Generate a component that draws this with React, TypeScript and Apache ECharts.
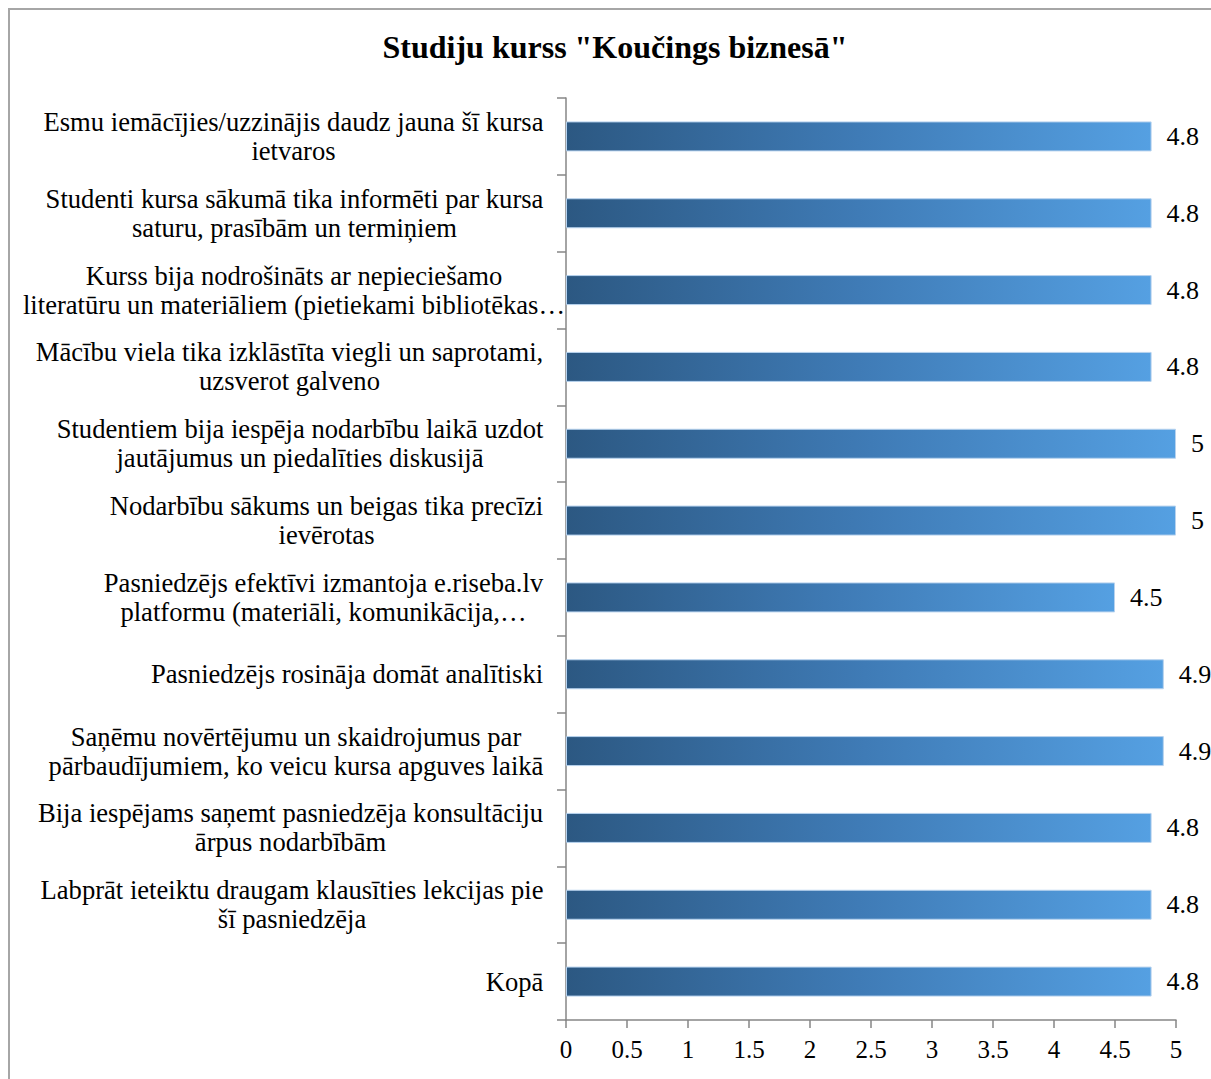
import React, { useEffect, useRef } from "react";
import * as echarts from "echarts";

const titleText = 'Studiju kurss "Koučings biznesā"';

const categories: string[] = [
  "Esmu iemācījies/uzzinājis daudz jauna šī kursa\nietvaros",
  "Studenti kursa sākumā tika informēti par kursa\nsaturu, prasībām un termiņiem",
  "Kurss bija nodrošināts ar nepieciešamo\nliteratūru un materiāliem (pietiekami bibliotēkas…",
  "Mācību viela tika izklāstīta viegli un saprotami,\nuzsverot galveno",
  "Studentiem bija iespēja nodarbību laikā uzdot\njautājumus un piedalīties diskusijā",
  "Nodarbību sākums un beigas tika precīzi\nievērotas",
  "Pasniedzējs efektīvi izmantoja e.riseba.lv\nplatformu (materiāli, komunikācija,…",
  "Pasniedzējs rosināja domāt analītiski",
  "Saņēmu novērtējumu un skaidrojumus par\npārbaudījumiem, ko veicu kursa apguves laikā",
  "Bija iespējams saņemt pasniedzēja konsultāciju\nārpus nodarbībām",
  "Labprāt ieteiktu draugam klausīties lekcijas pie\nšī pasniedzēja",
  "Kopā",
];

const values: number[] = [4.8, 4.8, 4.8, 4.8, 5, 5, 4.5, 4.9, 4.9, 4.8, 4.8, 4.8];

const FONT = "'Liberation Serif', 'Times New Roman', serif";
const LABEL_SIZE = 26.6;
const LABEL_OVERFLOW_LIMIT = 530;
const LABEL_BOX_MAX = 500;

function measure(text: string, size: number): number {
  const c = document.createElement("canvas");
  const ctx = c.getContext("2d");
  if (!ctx) return text.length * size * 0.45;
  ctx.font = `${size}px ${FONT}`;
  return ctx.measureText(text).width;
}

export default function App() {
  const ref = useRef<HTMLDivElement>(null);

  useEffect(() => {
    document.body.style.margin = "0";
    if (!ref.current) return;
    const chart = echarts.init(ref.current, undefined, { renderer: "svg" });

    const rich: Record<string, any> = {};
    categories.forEach((cat, i) => {
      const w = Math.ceil(Math.max(...cat.split("\n").map((l) => measure(l, LABEL_SIZE)))) + 1;
      rich["l" + i] = {
        width: w > LABEL_OVERFLOW_LIMIT ? LABEL_BOX_MAX : w,
        align: "center",
        fontFamily: FONT,
        fontSize: LABEL_SIZE,
        lineHeight: 29,
        color: "#000",
      };
    });

    chart.setOption({
      animation: false,
      backgroundColor: "#fff",
      textStyle: { fontFamily: FONT },
      title: {
        text: titleText,
        left: 610,
        textAlign: "center",
        top: 26,
        textStyle: {
          fontFamily: FONT,
          fontSize: 32,
          fontWeight: "bold",
          color: "#000",
        },
      },
      graphic: [
        {
          type: "rect",
          shape: { x: 9, y: 9, width: 1260, height: 1120 },
          style: { fill: "none", stroke: "#a6a6a6", lineWidth: 2 },
          silent: true,
          z: 100,
        },
      ],
      grid: {
        left: 566,
        right: 35,
        top: 98,
        bottom: 59,
        containLabel: false,
        outerBoundsMode: "none",
      },
      xAxis: {
        type: "value",
        min: 0,
        max: 5,
        interval: 0.5,
        axisLine: { show: true, lineStyle: { color: "#868686", width: 1.5 } },
        axisTick: { show: true, length: 8, lineStyle: { color: "#868686", width: 1.5 } },
        splitLine: { show: false },
        axisLabel: {
          fontFamily: FONT,
          fontSize: 25,
          color: "#000",
          margin: 17,
        },
      },
      yAxis: {
        type: "category",
        inverse: true,
        data: categories,
        axisLine: { show: true, lineStyle: { color: "#868686", width: 1.5 } },
        axisTick: { show: true, length: 9, lineStyle: { color: "#868686", width: 1.5 } },
        axisLabel: {
          margin: 22,
          interval: 0,
          hideOverlap: false,
          fontFamily: FONT,
          fontSize: LABEL_SIZE,
          color: "#000",
          formatter: (v: string) => {
            const i = categories.indexOf(v);
            return v
              .split("\n")
              .map((l) => `{l${i}|${l}}`)
              .join("\n");
          },
          rich,
        },
      },
      series: [
        {
          type: "bar",
          data: values,
          barWidth: 30,
          itemStyle: {
            color: new echarts.graphic.LinearGradient(0, 0, 1, 0, [
              { offset: 0, color: "#2c5882" },
              { offset: 0.5, color: "#3f7bb6" },
              { offset: 1, color: "#55a0e2" },
            ]),
            borderColor: "#b7d2ee",
            borderWidth: 1,
          },
          label: {
            show: true,
            position: "right",
            distance: 15,
            fontFamily: FONT,
            fontSize: 26,
            color: "#000",
          },
        },
      ],
    });

    return () => chart.dispose();
  }, []);

  return <div ref={ref} style={{ width: 1211, height: 1079 }} />;
}
